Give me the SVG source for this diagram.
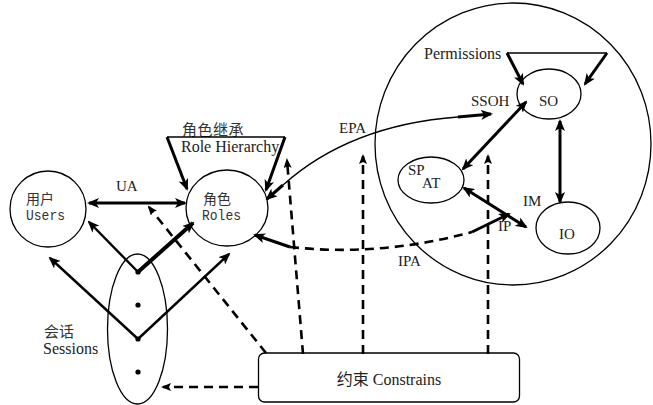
<svg xmlns="http://www.w3.org/2000/svg" width="653" height="405" viewBox="0 0 653 405">
<style>
.node{fill:none;stroke:#000;stroke-width:1.3}
.thin{fill:none;stroke:#000;stroke-width:1.3}
.thick{fill:none;stroke:#000;stroke-width:3}
.mid{fill:none;stroke:#000;stroke-width:2.4}
.dash{fill:none;stroke:#000;stroke-width:2.6;stroke-dasharray:9 6}
.lab{font-family:"Liberation Serif","Noto Sans CJK SC",serif;font-size:15px;fill:#222}
.big{font-size:16px}
.cjk{font-family:"Noto Sans CJK SC","Liberation Serif",sans-serif;font-size:14px;fill:#333}
.mono{font-family:"Liberation Mono","Noto Sans CJK SC",monospace;font-size:15px;fill:#333}
.dot{fill:#000}
</style>
<defs>
<marker id="ah" viewBox="0 0 12 10" refX="10" refY="5" markerWidth="12" markerHeight="10" orient="auto-start-reverse" markerUnits="userSpaceOnUse">
<path d="M0,0 L12,5 L0,10 L3,5 z" fill="#000"/>
</marker>
<marker id="ahs" viewBox="0 0 10 8" refX="8" refY="4" markerWidth="10" markerHeight="8" orient="auto-start-reverse" markerUnits="userSpaceOnUse">
<path d="M0,0 L10,4 L0,8 L2,4 z" fill="#000"/>
</marker>
</defs>

<g id="permission-area">
<ellipse cx="513" cy="144" rx="138" ry="141" class="thin"/>
</g>

<g id="users">
<circle cx="48" cy="209" r="38" class="node"/>
<text x="26" y="204" class="cjk">用户</text>
<text x="26" y="220" class="mono" textLength="39" lengthAdjust="spacingAndGlyphs">Users</text>
</g>

<g id="roles">
<ellipse cx="227" cy="208" rx="41" ry="38" class="node"/>
<text x="203" y="204" class="cjk">角色</text>
<text x="202" y="220" class="mono" textLength="39" lengthAdjust="spacingAndGlyphs">Roles</text>
</g>

<g id="sessions">
<ellipse cx="137.5" cy="329" rx="30" ry="75" class="node"/>
<circle cx="138" cy="272" r="2.6" class="dot"/>
<circle cx="138" cy="305" r="2.6" class="dot"/>
<circle cx="138" cy="339" r="2.6" class="dot"/>
<circle cx="138" cy="372" r="2.6" class="dot"/>
</g>

<g id="constraints">
<rect x="258.5" y="353" width="261" height="49" rx="6" class="node"/>
<text x="389" y="385" class="lab big" text-anchor="middle">约束 Constrains</text>
</g>

<g id="so">
<ellipse cx="549" cy="94" rx="32" ry="25" class="node"/>
<text x="539" y="106" class="lab">SO</text>
</g>

<g id="spat">
<ellipse cx="431" cy="180" rx="33" ry="23" class="node"/>
<text x="408" y="175" class="lab">SP</text>
<text x="422" y="188" class="lab">AT</text>
</g>

<g id="io">
<ellipse cx="568" cy="228" rx="32" ry="26" class="node"/>
<text x="559" y="239" class="lab">IO</text>
</g>

<g id="labels">
<text x="182" y="135" class="cjk" style="font-size:15px;letter-spacing:0.5px">角色继承</text>
<text x="181" y="152" class="lab big">Role Hierarchy</text>
<text x="116" y="191" class="lab">UA</text>
<text x="339" y="133" class="lab">EPA</text>
<text x="398" y="266" class="lab">IPA</text>
<text x="471" y="106" class="lab">SSOH</text>
<text x="424" y="59" class="lab big">Permissions</text>
<text x="523" y="206" class="lab">IM</text>
<text x="498" y="231" class="lab">IP</text>
<text x="44" y="337" class="cjk" style="font-size:15px">会话</text>
<text x="43" y="354" class="lab big">Sessions</text>
</g>

<g id="connectors">
<line x1="167" y1="137" x2="285" y2="137" class="thin"/>
<line x1="167" y1="137" x2="187" y2="189" class="thick" marker-end="url(#ah)"/>
<line x1="285" y1="137" x2="266" y2="190" class="thick" marker-end="url(#ah)"/>
<line x1="89" y1="203" x2="185" y2="203" class="thick" marker-start="url(#ah)" marker-end="url(#ah)"/>
<line x1="138" y1="272" x2="89" y2="222" class="mid" marker-end="url(#ah)"/>
<line x1="138" y1="272" x2="193" y2="223" class="thick" style="stroke-width:4" marker-end="url(#ah)"/>
<line x1="138" y1="339" x2="50" y2="258" class="mid" marker-end="url(#ah)"/>
<line x1="138" y1="339" x2="229" y2="254" class="mid" marker-end="url(#ah)"/>
<path d="M283,185 Q350,125 458,117" class="thin"/>
<line x1="283" y1="185" x2="267" y2="199" class="thick" marker-end="url(#ah)"/>
<line x1="458" y1="117" x2="491" y2="114" class="thick" marker-end="url(#ah)"/>
<line x1="507" y1="53" x2="607" y2="53" class="thin"/>
<line x1="507" y1="53" x2="523" y2="84" class="thick" marker-end="url(#ah)"/>
<line x1="607" y1="53" x2="585" y2="84" class="thick" marker-end="url(#ah)"/>
<line x1="526" y1="102" x2="463" y2="169" class="thick" marker-start="url(#ah)" marker-end="url(#ah)"/>
<line x1="560" y1="121" x2="560" y2="202" class="thick" marker-start="url(#ah)" marker-end="url(#ah)"/>
<line x1="464" y1="188" x2="526" y2="227" class="thick" marker-start="url(#ah)" marker-end="url(#ah)"/>
<line x1="290" y1="247" x2="255" y2="235" class="thick" marker-end="url(#ah)"/>
<path d="M290,247 Q380,257 472,232" class="dash"/>
<line x1="472" y1="232" x2="509" y2="214" class="thick" marker-end="url(#ah)"/>
<line x1="303" y1="354" x2="287" y2="160" class="dash" marker-end="url(#ahs)"/>
<line x1="363" y1="354" x2="363" y2="156" class="dash" marker-end="url(#ahs)"/>
<line x1="488" y1="354" x2="488" y2="156" class="dash" marker-end="url(#ahs)"/>
<line x1="266" y1="353" x2="149" y2="207" class="dash" marker-end="url(#ahs)"/>
<line x1="258" y1="387" x2="163" y2="387" class="dash" marker-end="url(#ahs)"/>
</g>
</svg>
